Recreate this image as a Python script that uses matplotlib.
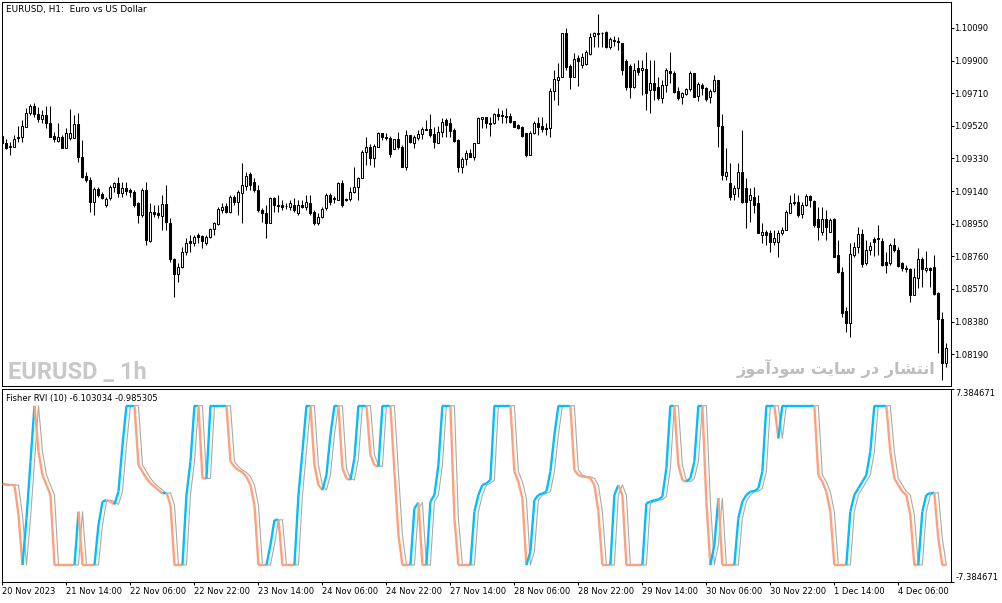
import numpy as np
import matplotlib
matplotlib.use("Agg")
import matplotlib.pyplot as plt
from matplotlib.collections import LineCollection

# ---------------- data (EURUSD H1) ----------------
opens = [
    1.09461, 1.09419, 1.09405, 1.09399, 1.09457, 1.09454, 1.09515, 1.09593, 1.09636, 1.09589,
    1.09558, 1.09583, 1.09539, 1.09461, 1.09434, 1.09457, 1.09390, 1.09448, 1.09448, 1.09531,
    1.09341, 1.09228, 1.09205, 1.09078, 1.09151, 1.09121, 1.09059, 1.09098, 1.09166, 1.09189,
    1.09131, 1.09156, 1.09147, 1.09137, 1.09069, 1.09001, 1.09147, 1.08849, 1.09020, 1.09011,
    1.08995, 1.09065, 1.08956, 1.08743, 1.08656, 1.08700, 1.08787, 1.08849, 1.08840, 1.08884,
    1.08879, 1.08840, 1.08875, 1.08918, 1.08947, 1.09030, 1.09053, 1.09020, 1.09107, 1.09078,
    1.09129, 1.09172, 1.09238, 1.09195, 1.09147, 1.09030, 1.09011, 1.08956, 1.09098, 1.09059,
    1.09059, 1.09055, 1.09049, 1.09059, 1.09013, 1.09059, 1.09049, 1.09069, 1.09018, 1.08953,
    1.08991, 1.09040, 1.09117, 1.09097, 1.09088, 1.09189, 1.09094, 1.09092, 1.09137, 1.09162,
    1.09215, 1.09366, 1.09399, 1.09331, 1.09399, 1.09477, 1.09457, 1.09448, 1.09384, 1.09442,
    1.09399, 1.09282, 1.09467, 1.09422, 1.09448, 1.09473, 1.09502, 1.09502, 1.09473, 1.09422,
    1.09486, 1.09554, 1.09539, 1.09496, 1.09438, 1.09279, 1.09325, 1.09360, 1.09341, 1.09419,
    1.09558, 1.09570, 1.09535, 1.09535, 1.09589, 1.09581, 1.09579, 1.09578, 1.09547, 1.09525,
    1.09515, 1.09477, 1.09350, 1.09477, 1.09539, 1.09519, 1.09509, 1.09506, 1.09725, 1.09787,
    1.09803, 1.10059, 1.09869, 1.09806, 1.09914, 1.09875, 1.09880, 1.09939, 1.10043, 1.10055,
    1.10063, 1.10067, 1.09981, 1.10020, 1.10016, 1.10001, 1.09900, 1.09869, 1.09745, 1.09857,
    1.09845, 1.09850, 1.09729, 1.09768, 1.09746, 1.09681, 1.09758, 1.09841, 1.09830, 1.09725,
    1.09686, 1.09706, 1.09733, 1.09826, 1.09694, 1.09758, 1.09739, 1.09686, 1.09725, 1.09787,
    1.09519, 1.09228, 1.09189, 1.09123, 1.09156, 1.09253, 1.09156, 1.09088, 1.09107, 1.09069,
    1.08884, 1.08904, 1.08898, 1.08846, 1.08846, 1.08895, 1.08914, 1.09011, 1.09078, 1.09078,
    1.09005, 1.09059, 1.09112, 1.09084, 1.08976, 1.08904, 1.08976, 1.08904, 1.08976, 1.08768,
    1.08671, 1.08444, 1.08374, 1.08768, 1.08816, 1.08890, 1.08720, 1.08797, 1.08860, 1.08861,
    1.08851, 1.08729, 1.08720, 1.08826, 1.08797, 1.08720, 1.08691, 1.08685, 1.08535, 1.08632,
    1.08743, 1.08681, 1.08691, 1.08697, 1.08545, 1.08394, 1.08141,
]
highs = [
    1.09467, 1.09442, 1.09428, 1.09467, 1.09519, 1.09554, 1.09626, 1.09648, 1.09652, 1.09632,
    1.09612, 1.09636, 1.09636, 1.09486, 1.09535, 1.09467, 1.09506, 1.09617, 1.09583, 1.09593,
    1.09438, 1.09253, 1.09224, 1.09166, 1.09166, 1.09137, 1.09107, 1.09176, 1.09195, 1.09224,
    1.09195, 1.09195, 1.09156, 1.09147, 1.09078, 1.09156, 1.09195, 1.09069, 1.09059, 1.09059,
    1.09117, 1.09176, 1.08982, 1.08749, 1.08720, 1.08816, 1.08865, 1.08884, 1.08884, 1.08894,
    1.08884, 1.08884, 1.08924, 1.08962, 1.09049, 1.09069, 1.09069, 1.09117, 1.09117, 1.09147,
    1.09302, 1.09252, 1.09252, 1.09217, 1.09176, 1.09042, 1.09059, 1.09107, 1.09107, 1.09117,
    1.09088, 1.09071, 1.09088, 1.09100, 1.09088, 1.09088, 1.09117, 1.09117, 1.09030, 1.09013,
    1.09049, 1.09129, 1.09129, 1.09112, 1.09195, 1.09205, 1.09100, 1.09166, 1.09282, 1.09224,
    1.09380, 1.09457, 1.09415, 1.09415, 1.09486, 1.09480, 1.09477, 1.09461, 1.09442, 1.09486,
    1.09409, 1.09496, 1.09467, 1.09467, 1.09496, 1.09515, 1.09554, 1.09589, 1.09515, 1.09519,
    1.09564, 1.09564, 1.09564, 1.09506, 1.09442, 1.09341, 1.09380, 1.09384, 1.09422, 1.09570,
    1.09573, 1.09573, 1.09573, 1.09593, 1.09622, 1.09612, 1.09622, 1.09593, 1.09550, 1.09531,
    1.09519, 1.09480, 1.09492, 1.09550, 1.09573, 1.09573, 1.09535, 1.09739, 1.09845, 1.09884,
    1.10059, 1.10088, 1.09880, 1.09943, 1.09933, 1.09943, 1.09962, 1.10059, 1.10068, 1.10171,
    1.10067, 1.10074, 1.10036, 1.10043, 1.10039, 1.10004, 1.09908, 1.09880, 1.09884, 1.09904,
    1.09904, 1.09952, 1.09904, 1.09904, 1.09805, 1.09787, 1.09855, 1.09952, 1.09841, 1.09745,
    1.09719, 1.09739, 1.09841, 1.09830, 1.09777, 1.09771, 1.09745, 1.09733, 1.09816, 1.09787,
    1.09589, 1.09390, 1.09302, 1.09176, 1.09302, 1.09496, 1.09215, 1.09156, 1.09166, 1.09117,
    1.08953, 1.08914, 1.08914, 1.08914, 1.08914, 1.08933, 1.09030, 1.09117, 1.09128, 1.09117,
    1.09078, 1.09123, 1.09117, 1.09088, 1.09049, 1.09049, 1.09030, 1.08982, 1.08982, 1.08855,
    1.08700, 1.08467, 1.08836, 1.08845, 1.08933, 1.08918, 1.08855, 1.08845, 1.08875, 1.08943,
    1.08865, 1.08787, 1.08836, 1.08865, 1.08816, 1.08729, 1.08710, 1.08691, 1.08691, 1.08807,
    1.08755, 1.08793, 1.08699, 1.08768, 1.08554, 1.08438, 1.08254,
]
lows = [
    1.09415, 1.09386, 1.09350, 1.09397, 1.09428, 1.09428, 1.09513, 1.09583, 1.09573, 1.09544,
    1.09535, 1.09506, 1.09454, 1.09428, 1.09428, 1.09390, 1.09390, 1.09438, 1.09448, 1.09311,
    1.09215, 1.09195, 1.09020, 1.09001, 1.09107, 1.09092, 1.09049, 1.09088, 1.09137, 1.09107,
    1.09107, 1.09117, 1.09107, 1.09049, 1.08953, 1.08991, 1.08826, 1.08845, 1.08991, 1.08982,
    1.08914, 1.08914, 1.08729, 1.08522, 1.08613, 1.08691, 1.08768, 1.08787, 1.08821, 1.08840,
    1.08807, 1.08826, 1.08865, 1.08884, 1.08943, 1.09011, 1.09011, 1.09011, 1.09059, 1.09001,
    1.08953, 1.09147, 1.09147, 1.09135, 1.09018, 1.08962, 1.08869, 1.08956, 1.09020, 1.09020,
    1.09030, 1.09036, 1.09030, 1.09018, 1.09001, 1.09042, 1.09030, 1.09001, 1.08943, 1.08943,
    1.08984, 1.09030, 1.09059, 1.09071, 1.09088, 1.09047, 1.09082, 1.09082, 1.09128, 1.09088,
    1.09215, 1.09292, 1.09292, 1.09282, 1.09399, 1.09438, 1.09438, 1.09341, 1.09384, 1.09384,
    1.09282, 1.09263, 1.09419, 1.09390, 1.09438, 1.09442, 1.09496, 1.09457, 1.09390, 1.09422,
    1.09454, 1.09454, 1.09454, 1.09428, 1.09253, 1.09247, 1.09292, 1.09338, 1.09321, 1.09419,
    1.09506, 1.09506, 1.09461, 1.09531, 1.09554, 1.09535, 1.09539, 1.09539, 1.09512, 1.09500,
    1.09457, 1.09341, 1.09350, 1.09473, 1.09467, 1.09486, 1.09467, 1.09457, 1.09671, 1.09642,
    1.09803, 1.09845, 1.09733, 1.09806, 1.09752, 1.09855, 1.09875, 1.09933, 1.09981, 1.09981,
    1.09981, 1.09972, 1.09966, 1.09985, 1.09962, 1.09816, 1.09729, 1.09681, 1.09739, 1.09816,
    1.09700, 1.09612, 1.09597, 1.09671, 1.09671, 1.09652, 1.09719, 1.09768, 1.09710, 1.09671,
    1.09647, 1.09700, 1.09725, 1.09686, 1.09667, 1.09700, 1.09667, 1.09652, 1.09719, 1.09399,
    1.09205, 1.09205, 1.09088, 1.09088, 1.09107, 1.09071, 1.08924, 1.08962, 1.09011, 1.08895,
    1.08836, 1.08826, 1.08787, 1.08826, 1.08758, 1.08884, 1.08914, 1.09011, 1.09059, 1.08991,
    1.08982, 1.09053, 1.09049, 1.08933, 1.08855, 1.08884, 1.08855, 1.08904, 1.08755, 1.08662,
    1.08409, 1.08321, 1.08289, 1.08758, 1.08778, 1.08697, 1.08710, 1.08768, 1.08762, 1.08768,
    1.08704, 1.08665, 1.08710, 1.08787, 1.08697, 1.08677, 1.08671, 1.08496, 1.08535, 1.08574,
    1.08584, 1.08671, 1.08584, 1.08535, 1.08196, 1.08040, 1.08118,
]
closes = [
    1.09421, 1.09393, 1.09397, 1.09442, 1.09448, 1.09521, 1.09593, 1.09636, 1.09588, 1.09558,
    1.09583, 1.09535, 1.09457, 1.09442, 1.09454, 1.09390, 1.09477, 1.09480, 1.09531, 1.09338,
    1.09224, 1.09205, 1.09078, 1.09151, 1.09117, 1.09098, 1.09092, 1.09166, 1.09189, 1.09131,
    1.09156, 1.09143, 1.09135, 1.09059, 1.09001, 1.09147, 1.08855, 1.09020, 1.09007, 1.09001,
    1.09065, 1.08962, 1.08743, 1.08656, 1.08700, 1.08787, 1.08840, 1.08836, 1.08871, 1.08871,
    1.08851, 1.08875, 1.08918, 1.08953, 1.09034, 1.09049, 1.09020, 1.09107, 1.09078, 1.09137,
    1.09176, 1.09228, 1.09176, 1.09147, 1.09030, 1.09011, 1.08956, 1.09098, 1.09059, 1.09053,
    1.09047, 1.09052, 1.09069, 1.09030, 1.09059, 1.09047, 1.09077, 1.09011, 1.08953, 1.08991,
    1.09034, 1.09117, 1.09077, 1.09091, 1.09189, 1.09059, 1.09088, 1.09137, 1.09162, 1.09215,
    1.09366, 1.09399, 1.09331, 1.09405, 1.09477, 1.09454, 1.09450, 1.09356, 1.09442, 1.09395,
    1.09282, 1.09467, 1.09428, 1.09454, 1.09473, 1.09502, 1.09496, 1.09469, 1.09428, 1.09486,
    1.09544, 1.09525, 1.09492, 1.09434, 1.09279, 1.09325, 1.09360, 1.09341, 1.09419, 1.09564,
    1.09570, 1.09535, 1.09531, 1.09589, 1.09578, 1.09576, 1.09573, 1.09544, 1.09515, 1.09506,
    1.09461, 1.09350, 1.09477, 1.09539, 1.09515, 1.09500, 1.09502, 1.09725, 1.09793, 1.09803,
    1.10059, 1.09865, 1.09806, 1.09908, 1.09900, 1.09919, 1.09952, 1.10036, 1.10059, 1.10063,
    1.10059, 1.09981, 1.10024, 1.10014, 1.10010, 1.09845, 1.09745, 1.09745, 1.09845, 1.09834,
    1.09857, 1.09713, 1.09770, 1.09729, 1.09682, 1.09758, 1.09845, 1.09830, 1.09719, 1.09681,
    1.09713, 1.09733, 1.09826, 1.09690, 1.09764, 1.09739, 1.09675, 1.09725, 1.09787, 1.09519,
    1.09234, 1.09253, 1.09107, 1.09158, 1.09253, 1.09078, 1.09078, 1.09117, 1.09059, 1.08898,
    1.08904, 1.08884, 1.08846, 1.08865, 1.08898, 1.08914, 1.09020, 1.09069, 1.09069, 1.09001,
    1.09059, 1.09112, 1.09088, 1.08943, 1.08933, 1.08976, 1.08933, 1.08972, 1.08758, 1.08671,
    1.08432, 1.08374, 1.08774, 1.08816, 1.08890, 1.08716, 1.08797, 1.08821, 1.08846, 1.08865,
    1.08710, 1.08710, 1.08826, 1.08797, 1.08704, 1.08691, 1.08685, 1.08535, 1.08642, 1.08743,
    1.08685, 1.08691, 1.08683, 1.08541, 1.08394, 1.08141, 1.08225,
]
# Fisher RVI (10) main line, one value per bar
fisher = [
    0.09, 0.05, 0.05, 0.00, -2.27, -6.10, -2.53, 1.82, 6.10, 2.58,
    0.79, 0.03, -0.74, -6.10, -6.10, -6.10, -6.10, -6.10, -6.10, -2.02,
    -6.10, -6.10, -6.10, -6.10, -3.04, -1.25, -1.13, -1.25, -1.46, -0.48,
    3.09, 6.10, 6.10, 6.10, 1.56, 1.05, 0.54, 0.15, -0.10, -0.36,
    -0.62, -0.57, -1.50, -6.10, -6.10, -6.10, -0.74, 1.82, 6.10, 6.10,
    0.54, 0.52, 6.10, 6.10, 6.10, 6.10, 6.10, 1.82, 1.43, 1.17,
    0.99, 0.66, 0.03, -1.50, -6.10, -6.10, -6.10, -4.57, -2.66, -2.63,
    -6.10, -6.10, -6.10, -6.10, -0.74, 2.58, 6.10, 6.10, 1.56, 0.03,
    -0.36, 0.79, 3.86, 6.10, 6.10, 1.31, 0.54, 0.41, 2.07, 6.10,
    6.10, 6.10, 2.33, 1.56, 1.43, 6.10, 6.10, 6.10, 1.05, -3.80,
    -6.10, -6.10, -6.10, -1.76, -1.32, -6.10, -6.10, -1.25, -0.74, 1.56,
    6.10, 6.10, 6.10, -2.53, -6.10, -6.10, -6.10, -6.10, -2.02, -0.74,
    0.03, 0.15, 0.41, 6.10, 6.10, 6.10, 6.10, 6.10, 1.05, 0.28,
    -0.99, -6.10, -5.08, -1.13, -0.74, -0.62, -0.48, 1.05, 3.86, 6.10,
    6.10, 6.10, 6.10, 1.17, 0.79, 0.66, 0.65, 0.54, 0.03, -2.02,
    -6.10, -6.10, -6.10, -0.74, 0.03, -0.74, -6.10, -6.10, -6.10, -6.10,
    -6.10, -1.38, -1.25, -1.13, -1.09, -0.87, 1.31, 6.10, 6.10, 1.56,
    0.41, 0.28, 0.54, 1.82, 6.10, 6.10, -1.25, -6.10, -4.57, -0.99,
    -6.10, -6.10, -6.10, -6.10, -2.53, -1.25, -0.74, -0.48, -0.44, -0.23,
    1.05, 6.10, 6.10, 6.10, 3.60, 6.10, 6.10, 6.10, 6.10, 6.10,
    6.10, 6.10, 6.10, 6.10, 0.79, 0.28, -0.48, -2.02, -6.10, -6.10,
    -6.10, -6.10, -2.02, -0.74, -0.23, 0.28, 0.79, 2.58, 6.10, 6.10,
    6.10, 6.10, 2.58, 0.54, 0.03, -0.48, -0.74, -2.27, -6.10, -6.10,
    -2.02, -0.74, -0.59, -0.57, -4.06, -6.10, -6.10,
]
price_ticks = [1.08190, 1.08380, 1.08570, 1.08760, 1.08950, 1.09140,
               1.09330, 1.09520, 1.09710, 1.09900, 1.10090]
time_labels = ["20 Nov 2023", "21 Nov 14:00", "22 Nov 06:00", "22 Nov 22:00",
               "23 Nov 14:00", "24 Nov 06:00", "24 Nov 22:00", "27 Nov 14:00",
               "28 Nov 06:00", "28 Nov 22:00", "29 Nov 14:00", "30 Nov 06:00",
               "30 Nov 22:00", "1 Dec 14:00", "4 Dec 06:00"]
time_label_bars = [0, 16, 32, 48, 64, 80, 96, 112, 128, 144, 160, 176, 192, 208, 224]
fisher_range = 7.384671
chart_title = "EURUSD, H1:  Euro vs US Dollar"
ind_title = "Fisher RVI (10) -6.103034 -0.985305"
wm_left = "EURUSD _ 1h"
# "انتشار در سایت سودآموز" written in shaped (presentation) forms, visual order
wm_right = ("\uFEAF\uFEEE\uFEE3\uFE81\uFEA9\uFEEE\uFEB3 \uFE96\uFBFE\uFE8E\uFEB3 "
            "\uFEAD\uFEA9 \uFEAD\uFE8E\uFEB8\uFE98\uFEE7\uFE8D")

# ---------------- figure ----------------
plt.rcParams["font.family"] = ["DejaVu Sans"]
W, H = 1003, 603
fig = plt.figure(figsize=(W / 100, H / 100), dpi=100)
fig.patch.set_facecolor("white")

L, R = 2.5, 950.7
ax1 = fig.add_axes([L / W, 1 - 386 / H, (R - L) / W, (386 - 2) / H])
ax2 = fig.add_axes([L / W, 1 - 581.7 / H, (R - L) / W, (581.7 - 389) / H])

lw1 = 0.75
n = len(opens)
x = np.arange(n)
o = np.array(opens); h = np.array(highs); l = np.array(lows); c = np.array(closes)
bull = c >= o

for ax in (ax1, ax2):
    ax.set_xlim(0.05, 237.1)
    for s in ax.spines.values():
        s.set_linewidth(lw1)
        s.set_color("black")

# candles
ax1.vlines(x, l, h, color="black", linewidth=lw1, zorder=2)
ax1.bar(x, np.abs(c - o), bottom=np.minimum(o, c), width=0.5,
        color=np.where(bull, "white", "black"), edgecolor="black",
        linewidth=lw1, zorder=3)
ax1.set_ylim(1.08005, 1.10241)
ax1.yaxis.tick_right()
ax1.set_yticks(price_ticks)
ax1.set_yticklabels([f"{p:.5f}" for p in price_ticks])
ax1.tick_params(axis="y", direction="out", length=2.2, width=lw1, pad=0.3,
                labelsize=6, colors="black")
ax1.set_xticks([])

# Fisher RVI
vals = np.array(fisher)
signal = np.concatenate([[vals[0] + 0.1], vals[:-1]])
blue, coral = "#00BFFF", "#FFA07A"
cols = []
prev = blue
for i in range(1, n):
    if vals[i] > vals[i - 1]:
        cc = blue
    elif vals[i] < vals[i - 1]:
        cc = coral
    else:
        cc = prev
    cols.append(cc)
    prev = cc
segs = [[(x[i - 1], vals[i - 1]), (x[i], vals[i])] for i in range(1, n)]
ax2.plot(x, signal, color="#A9A9A9", linewidth=0.8, zorder=2)
ax2.add_collection(LineCollection(segs, colors=cols, linewidths=1.7, zorder=3,
                                  capstyle="butt"))
ax2.set_ylim(-fisher_range, fisher_range)
ax2.yaxis.tick_right()
ax2.set_yticks([fisher_range, -fisher_range])
ax2.set_yticklabels([f"{fisher_range:.6f}", f"-{fisher_range:.6f}"])
ax2.tick_params(axis="y", direction="out", length=2.2, width=lw1, pad=1.2,
                labelsize=6, colors="black")
tl = ax2.get_yticklabels()
tl[0].set_va("top")
tl[1].set_va("bottom")
ax2.set_xticks(time_label_bars)
ax2.set_xticklabels(time_labels)
ax2.tick_params(axis="x", direction="out", length=2.4, width=lw1, pad=1.2,
                labelsize=6, colors="black")
for t in ax2.get_xticklabels():
    t.set_ha("left")

# texts
fig.text(6.5 / W, 1 - 9.5 / H, chart_title, fontsize=6.4, va="center", ha="left")
fig.text(6.0 / W, 1 - 398.5 / H, ind_title, fontsize=6, va="center", ha="left")
fig.text(8.0 / W, 1 - 379.5 / H, wm_left, fontsize=17, fontweight="bold",
         color="#C8C8C8", ha="left", va="baseline", family=["Roboto", "DejaVu Sans"])
fig.text(935.0 / W, 1 - 368 / H, wm_right, fontsize=11.6, fontweight="bold",
         color="#BDBDBD", ha="right", va="center", family=["DejaVu Sans"])

fig.savefig("out.png", dpi=100, facecolor="white")
